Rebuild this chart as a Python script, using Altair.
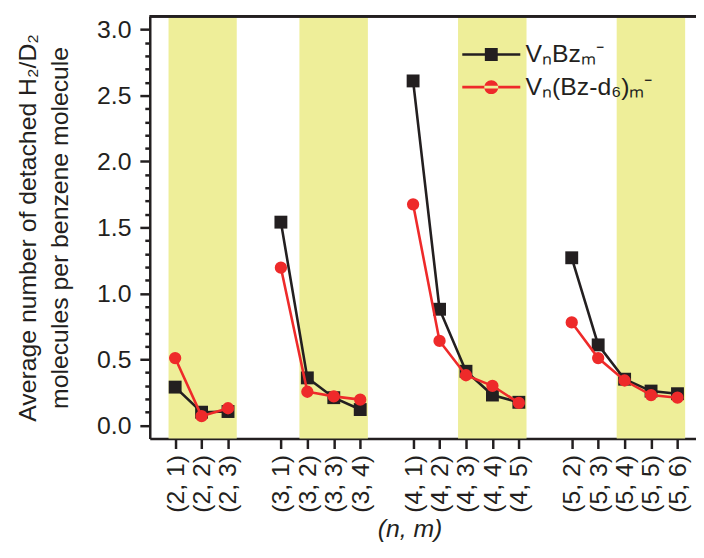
import altair as alt
import pandas as pd

# ---- data ----
positions = [0, 1, 2, 4, 5, 6, 7, 9, 10, 11, 12, 13, 15, 16, 17, 18, 19]
labels = ["(2, 1)", "(2, 2)", "(2, 3)",
          "(3, 1)", "(3, 2)", "(3, 3)", "(3, 4)",
          "(4, 1)", "(4, 2)", "(4, 3)", "(4, 4)", "(4, 5)",
          "(5, 2)", "(5, 3)", "(5, 4)", "(5, 5)", "(5, 6)"]
n_vals = [2, 2, 2, 3, 3, 3, 3, 4, 4, 4, 4, 4, 5, 5, 5, 5, 5]
bz = [0.29, 0.10, 0.105, 1.54, 0.36, 0.21, 0.12,
      2.61, 0.88, 0.41, 0.23, 0.175, 1.27, 0.61, 0.35, 0.26, 0.24]
bz_d6 = [0.51, 0.07, 0.13, 1.195, 0.255, 0.22, 0.195,
         1.675, 0.64, 0.38, 0.30, 0.17, 0.78, 0.51, 0.34, 0.23, 0.21]
shade_start = [-0.25, 4.70, 10.70, 16.70]
shade_end = [2.33, 7.29, 13.29, 19.29]
series_names = ["VₙBzₘ⁻", "Vₙ(Bz-d₆)ₘ⁻"]
y_major = [0.0, 0.5, 1.0, 1.5, 2.0, 2.5, 3.0]
y_minor = [0.0, 0.1, 0.2, 0.3, 0.4, 0.5, 0.6, 0.7, 0.8, 0.9, 1.0,
           1.1, 1.2, 1.3, 1.4, 1.5, 1.6, 1.7, 1.8, 1.9, 2.0,
           2.1, 2.2, 2.3, 2.4, 2.5, 2.6, 2.7, 2.8, 2.9, 3.0]

BLACK = "#231F20"
RED = "#EE2A2A"
SHADE = "#EEEE99"
FONT = "Liberation Sans"
FS = 25

rows = []
for p, lab, n, a, b in zip(positions, labels, n_vals, bz, bz_d6):
    rows.append({"pos": p, "label": lab, "n": n, "series": series_names[0], "value": a})
    rows.append({"pos": p, "label": lab, "n": n, "series": series_names[1], "value": b})
df = pd.DataFrame(rows)
shade_df = pd.DataFrame({"start": shade_start, "end": shade_end})

W, H = 551, 426
xscale = alt.Scale(domain=[-0.96, 19.70], nice=False, zero=False)


def ysc():
    return alt.Scale(domain=[-0.1, 3.1], nice=False, zero=False)


lab_arr = [""] * 20
for p, lab in zip(positions, labels):
    lab_arr[p] = lab
label_expr = "[" + ",".join("'" + s + "'" for s in lab_arr) + "][datum.value]"

major_test = "abs(datum.value*2 - round(datum.value*2)) < 0.001"

xaxis = alt.Axis(values=positions, labelExpr=label_expr, labelAngle=270,
                 labelFontSize=FS, labelFont=FONT, labelColor=BLACK, labelPadding=6,
                 ticks=True, tickSize=10, tickWidth=2.5, tickColor=BLACK,
                 domainColor=BLACK, domainWidth=2.5, grid=False,
                 title="(n, m)", titleFont=FONT, titleFontSize=FS, titleFontWeight="normal",
                 titleFontStyle="italic", titleColor=BLACK, titlePadding=4, titleX=262)
# labels, domain and title
yaxis = alt.Axis(values=y_major, format=".1f", orient="left", ticks=False,
                 labelFontSize=FS, labelFont=FONT, labelColor=BLACK, labelPadding=19,
                 domainColor=BLACK, domainWidth=2.5, grid=False,
                 title=["Average number of detached H₂/D₂", "molecules per benzene molecule"],
                 titleFont=FONT, titleFontSize=FS, titleFontWeight="normal", titleColor=BLACK,
                 titleLineHeight=33, titlePadding=24)
# major (long) and minor (short) ticks
yaxis_ticks = alt.Axis(values=y_minor, orient="left", labels=False, domain=False, grid=False,
                       ticks=True,
                       tickSize={"condition": {"test": major_test, "value": 10}, "value": 5},
                       tickWidth=2.5, tickColor=BLACK, title=None)

X = alt.X("pos:Q", scale=xscale, axis=xaxis)

shade = alt.Chart(shade_df).mark_rect(color=SHADE).encode(
    x=alt.X("start:Q", scale=xscale, axis=xaxis), x2="end:Q")

top_line = alt.Chart(shade_df).mark_rule(color=BLACK, strokeWidth=2.5).encode(
    x=alt.value(0), x2=alt.value(W), y=alt.value(0))

base = alt.Chart(df)
black_line = base.transform_filter(alt.datum.series == series_names[0]).mark_line(
    color=BLACK, strokeWidth=2.6).encode(
    x=X, y=alt.Y("value:Q", scale=ysc(), axis=yaxis), detail="n:N")
black_pts = base.transform_filter(alt.datum.series == series_names[0]).mark_point(
    shape="square", filled=True, size=169, color=BLACK, opacity=1).encode(
    x=X, y=alt.Y("value:Q", scale=ysc(), axis=None))
red_line = base.transform_filter(alt.datum.series == series_names[1]).mark_line(
    color=RED, strokeWidth=2.6).encode(
    x=X, y=alt.Y("value:Q", scale=ysc(), axis=None), detail="n:N")
red_pts = base.transform_filter(alt.datum.series == series_names[1]).mark_point(
    shape="circle", filled=True, size=154, color=RED, opacity=1).encode(
    x=X, y=alt.Y("value:Q", scale=ysc(), axis=None))

path_sq = "M-1,-1H1V1H-1Z M-4.5,-0.2H4.5V0.2H-4.5Z"
path_ci = "M-1.08,0A1.08,1.08 0 1,0 1.08,0A1.08,1.08 0 1,0 -1.08,0Z M-4.5,-0.2H4.5V0.2H-4.5Z"

leg = alt.Legend(title=None, orient="none", legendX=332, legendY=26,
                 labelFontSize=FS, labelFont=FONT, labelColor=BLACK, labelOffset=22,
                 rowPadding=7, symbolStrokeWidth=0, symbolOpacity=1, padding=0,
                 labelLimit=400, symbolSize=169)
legend_layer = base.mark_point(filled=True, opacity=0, size=169).encode(
    x=X, y=alt.Y("value:Q", scale=ysc(), axis=yaxis_ticks),
    color=alt.Color("series:N", scale=alt.Scale(domain=series_names, range=[BLACK, RED]), legend=leg),
    shape=alt.Shape("series:N", scale=alt.Scale(domain=series_names, range=[path_sq, path_ci]), legend=leg))

chart = alt.layer(shade, top_line, black_line, black_pts, red_line, red_pts, legend_layer).resolve_scale(
    y="independent").resolve_axis(y="independent").properties(
    width=W, height=H,
    autosize=alt.AutoSizeParams(type="none"),
    padding={"left": 143, "top": 6, "right": 0, "bottom": 104}
).configure_view(stroke=None).configure(background="white")

chart.save("out.html", embed_options={"renderer": "svg", "actions": False})
